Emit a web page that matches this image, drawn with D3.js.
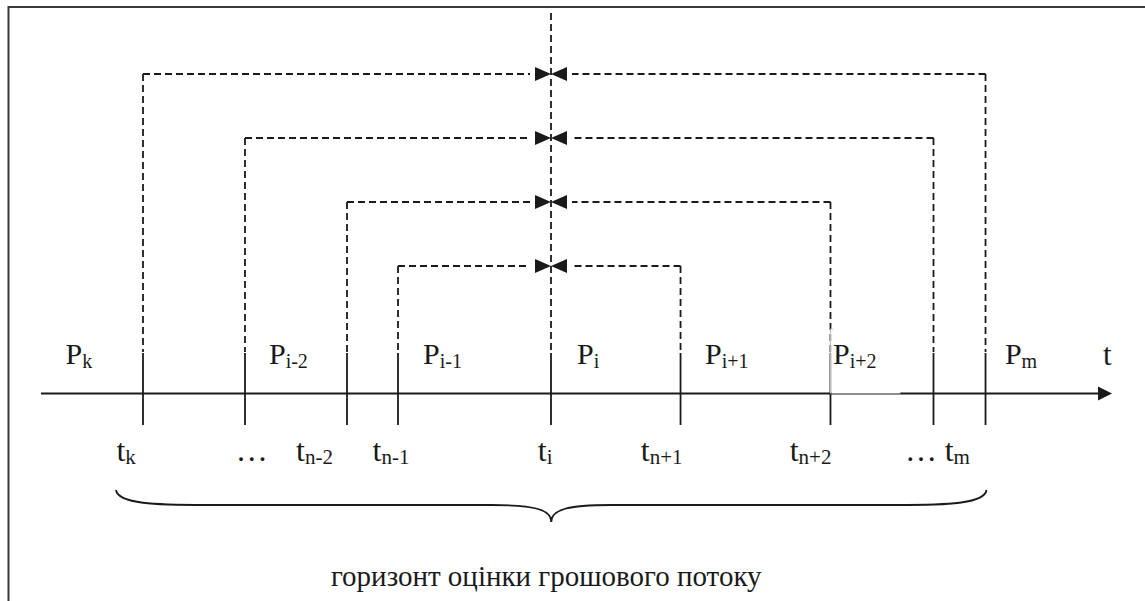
<!DOCTYPE html>
<html>
<head>
<meta charset="utf-8">
<script src="https://cdn.jsdelivr.net/npm/d3@7"></script>
<style>
  html, body { margin: 0; padding: 0; background: #fff; }
  svg { display: block; }
  text { font-family: "Liberation Serif", "Times New Roman", serif; fill: #1a1a1a; }
</style>
</head>
<body>
<svg id="chart" width="1145" height="601"></svg>
<script>
// ---- data ----
const tickTimes = [0, 1, 2, 2.5, 4, 5.27, 6.74, 7.75, 8.26];   // positions of the time marks
const centerIndex = 4;                                           // t_i
const bracketLeft  = [0, 1, 2, 3];                               // tick index, left end of each bracket
const bracketRight = [8, 7, 6, 5];                               // tick index, right end
const bracketLevel = [1, 2, 3, 4];                               // 1 = outermost (top)

const pBase = ["P", "P", "P", "P", "P", "P", "P"];
const pSub  = ["k", "i-2", "i-1", "i", "i+1", "i+2", "m"];
const pPos  = [-0.76, 1.235, 2.745, 4.255, 5.51, 6.765, 8.45];

const tBase = ["t", "…", "t", "t", "t", "t", "t", "…", "t"];
const tSub  = ["k", "", "n-2", "n-1", "i", "n+1", "n+2", "", "m"];
const tPos  = [-0.26, 0.91, 1.5, 2.25, 3.87, 4.88, 6.34, 7.47, 7.86];

const axisLabel = "t";
const horizonLabel = "горизонт оцінки грошового потоку";

// ---- scales ----
const x = d3.scaleLinear().domain([0, 1]).range([143, 245]);
const yLevel = d3.scaleLinear().domain([1, 4]).range([74, 266]);
const axisY = 393.5;
const axisStart = -1.0, axisEnd = 9.5;

const svg = d3.select("#chart");
const ink = "#1a1a1a";
const dash = "7,4";

// frame
svg.append("path")
  .attr("d", "M8.5,601 L8.5,7 L1145,7")
  .attr("fill", "none").attr("stroke", "#3a3a3a").attr("stroke-width", 2);

// central dashed vertical
svg.append("line")
  .attr("x1", x(tickTimes[centerIndex])).attr("x2", x(tickTimes[centerIndex]))
  .attr("y1", 13).attr("y2", 352)
  .attr("stroke", ink).attr("stroke-width", 1.8).attr("stroke-dasharray", dash);

// brackets
const tri = 16, triH = 7, gap = 5;
bracketLevel.forEach((lv, k) => {
  const y = yLevel(lv);
  const xl = x(tickTimes[bracketLeft[k]]);
  const xr = x(tickTimes[bracketRight[k]]);
  const xc = x(tickTimes[centerIndex]);
  const g = svg.append("g");
  [xl, xr].forEach(xx => {
    g.append("line").attr("x1", xx).attr("x2", xx).attr("y1", y).attr("y2", 352)
      .attr("stroke", ink).attr("stroke-width", 1.8).attr("stroke-dasharray", dash);
  });
  g.append("line").attr("x1", xl).attr("x2", xc - tri - gap).attr("y1", y).attr("y2", y)
    .attr("stroke", ink).attr("stroke-width", 1.8).attr("stroke-dasharray", dash);
  g.append("line").attr("x1", xr).attr("x2", xc + tri + gap).attr("y1", y).attr("y2", y)
    .attr("stroke", ink).attr("stroke-width", 1.8).attr("stroke-dasharray", dash);
  g.append("path").attr("d", `M${xc - tri},${y - triH} L${xc},${y} L${xc - tri},${y + triH} Z`).attr("fill", ink);
  g.append("path").attr("d", `M${xc + tri},${y - triH} L${xc},${y} L${xc + tri},${y + triH} Z`).attr("fill", ink);
});

// axis
svg.append("line")
  .attr("x1", x(axisStart)).attr("x2", x(axisEnd) - 12)
  .attr("y1", axisY).attr("y2", axisY)
  .attr("stroke", ink).attr("stroke-width", 2);
svg.append("path")
  .attr("d", `M${x(axisEnd)},${axisY} L${x(axisEnd) - 14},${axisY - 7} L${x(axisEnd) - 14},${axisY + 7} Z`)
  .attr("fill", ink);

// solid tick marks
svg.selectAll("line.tick").data(tickTimes).enter().append("line")
  .attr("class", "tick")
  .attr("x1", d => x(d)).attr("x2", d => x(d))
  .attr("y1", 353).attr("y2", 425)
  .attr("stroke", ink).attr("stroke-width", 1.8);

// white label box artefact around P_{i+2}
const bx = x(tickTimes[6]);
svg.append("rect").attr("x", bx + 0.9).attr("y", 329).attr("width", 69).attr("height", axisY - 329)
  .attr("fill", "#fff");
svg.append("line").attr("x1", bx).attr("x2", bx).attr("y1", 329).attr("y2", axisY)
  .attr("stroke", "#bbb").attr("stroke-width", 1);
svg.append("line").attr("x1", bx).attr("x2", bx + 3).attr("y1", 329).attr("y2", 329)
  .attr("stroke", "#ccc").attr("stroke-width", 1);

// P labels
pBase.forEach((b, i) => {
  const t = svg.append("text").attr("x", x(pPos[i])).attr("y", 364).attr("font-size", 30);
  t.append("tspan").text(b);
  t.append("tspan").attr("font-size", 20).attr("dy", 3.5).text(pSub[i]);
});

// axis label
svg.append("text").attr("x", 1103).attr("y", 365).attr("font-size", 31).text(axisLabel);

// t labels
tBase.forEach((b, i) => {
  const t = svg.append("text").attr("x", x(tPos[i])).attr("y", 461).attr("font-size", 32);
  t.append("tspan").text(b);
  if (tSub[i]) t.append("tspan").attr("font-size", 21).attr("dy", 3).text(tSub[i]);
});

// brace
const bl = x(tickTimes[0]) - 27, br = x(tickTimes[8]) + 1, bc = (bl + br) / 2;
svg.append("path")
  .attr("d", `M${bl},490 C${bl + 2},504 ${bl + 40},505 ${bl + 90},505 L${bc - 60},505 C${bc - 15},505 ${bc},510 ${bc},522 ` +
             `C${bc},510 ${bc + 15},505 ${bc + 60},505 L${br - 90},505 C${br - 40},505 ${br - 2},504 ${br},490`)
  .attr("fill", "none").attr("stroke", ink).attr("stroke-width", 1.8);

// horizon caption
svg.append("text").attr("x", bc - 5).attr("y", 586).attr("font-size", 29)
  .attr("text-anchor", "middle").text(horizonLabel);
</script>
</body>
</html>
